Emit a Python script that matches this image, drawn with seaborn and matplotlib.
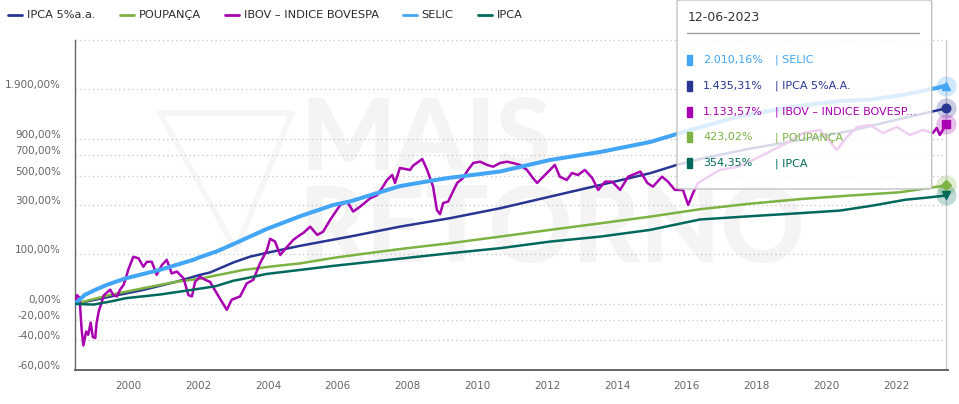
import numpy as np
import pandas as pd
import matplotlib
matplotlib.use("Agg")
import matplotlib.pyplot as plt
import matplotlib.transforms as mtransforms
from matplotlib.lines import Line2D
from matplotlib.patches import FancyBboxPatch, Rectangle
import seaborn as sns

# ---------------- data ----------------
series_names = ["IPCA 5%a.a.", "POUPANÇA", "IBOV – INDICE BOVESPA", "SELIC", "IPCA"]
tooltip_names = ["IPCA 5%A.A.", "POUPANÇA", "IBOV – INDICE BOVESP...", "SELIC", "IPCA"]
series_colors = ["#283593", "#7cb342", "#a800b0", "#42a5f5", "#00695c"]
series_markers = ["o", "D", "s", "^", "v"]
tooltip_date = "12-06-2023"

ipca5_t = [1998.47, 1999.48, 2000.43, 2001.39, 2002.05, 2002.34, 2003.00, 2003.49, 2003.97,
           2004.92, 2006.35, 2007.78, 2009.22, 2010.65, 2012.08, 2013.52, 2014.95, 2015.71,
           2016.38, 2017.81, 2019.25, 2020.68, 2022.10, 2023.44]
ipca5_v = [0, 10.7, 21.6, 36.5, 49.9, 55, 78, 93.5, 104,
           125, 156, 194, 231, 280, 347, 426, 520, 596,
           657, 774, 886, 1018, 1222, 1435.31]

poup_t = [1998.47, 1999.48, 2000.43, 2001.39, 2002.05, 2002.34, 2003.30, 2004.25, 2004.92,
          2005.87, 2006.64, 2007.78, 2009.22, 2010.65, 2012.08, 2013.52, 2014.95, 2016.38,
          2017.81, 2019.25, 2020.68, 2022.10, 2023.44]
poup_v = [0, 13.4, 24.5, 36.5, 42, 46.3, 60.7, 70, 76,
          90, 100, 115, 133.3, 155.8, 181, 208, 238, 275,
          305, 332, 354, 375, 423.02]

ibov_t = [1998.47, 1998.53, 1998.60, 1998.66, 1998.71, 1998.79, 1998.85, 1998.92, 1998.98, 1999.05,
          1999.09, 1999.15, 1999.24, 1999.30, 1999.38, 1999.48, 1999.57, 1999.67, 1999.76, 1999.86,
          1999.93, 2000.00, 2000.14, 2000.29, 2000.43, 2000.53, 2000.67, 2000.81, 2000.96, 2001.10,
          2001.24, 2001.39, 2001.58, 2001.72, 2001.82, 2001.91, 2002.05, 2002.20, 2002.34, 2002.53,
          2002.68, 2002.82, 2002.96, 2003.20, 2003.39, 2003.58, 2003.77, 2003.97, 2004.06, 2004.20,
          2004.35, 2004.55, 2004.72, 2004.92, 2005.01, 2005.21, 2005.41, 2005.58, 2005.78, 2006.07,
          2006.27, 2006.44, 2006.64, 2006.93, 2007.13, 2007.27, 2007.41, 2007.56, 2007.64, 2007.78,
          2008.07, 2008.16, 2008.42, 2008.56, 2008.73, 2008.84, 2008.93, 2009.02, 2009.16, 2009.42,
          2009.59, 2009.73, 2009.88, 2010.08, 2010.28, 2010.45, 2010.65, 2010.85, 2011.02, 2011.22,
          2011.42, 2011.59, 2011.71, 2011.85, 2011.99, 2012.22, 2012.36, 2012.56, 2012.71, 2012.88,
          2013.08, 2013.29, 2013.46, 2013.66, 2013.86, 2014.09, 2014.32, 2014.58, 2014.67, 2014.87,
          2015.03, 2015.29, 2015.46, 2015.66, 2015.89, 2016.04, 2016.18, 2016.32, 2016.95, 2017.44,
          2017.90, 2018.87, 2019.33, 2019.82, 2020.30, 2020.59, 2020.88, 2021.25, 2021.62, 2022.02,
          2022.39, 2022.77, 2023.05, 2023.16, 2023.25, 2023.44]
ibov_v = [0, 13, 9, -30, -44, -32, -35, -23, -37, -38,
          -23, -10, 3, 13, 17, 22, 13, 11, 22, 30,
          44, 62, 93, 89, 68, 80, 80, 50, 72, 85,
          53, 57, 43, 13, 11, 36, 46, 40, 36, 16,
          3, -8, 6, 11, 33, 40, 76, 112, 148, 139,
          98, 122, 144, 162, 169, 194, 162, 174, 223, 298,
          317, 263, 289, 337, 357, 405, 464, 505, 441, 567,
          549, 590, 656, 549, 414, 271, 250, 309, 317, 441,
          480, 549, 615, 628, 596, 579, 615, 628, 615, 596,
          549, 480, 441, 480, 522, 596, 491, 464, 522, 505,
          549, 480, 391, 451, 451, 391, 491, 522, 534, 441,
          414, 491, 451, 391, 391, 298, 371, 441, 549, 577,
          646, 846, 987, 1034, 758, 928, 1082, 1116, 987, 1082,
          957, 1034, 987, 1066, 957, 1133.57]

selic_t = [1998.47, 1998.75, 1999.05, 1999.38, 1999.93, 2000.91, 2001.86, 2002.05, 2002.53,
           2003.00, 2003.97, 2004.92, 2005.87, 2006.35, 2006.84, 2007.78, 2008.93, 2009.22,
           2010.65, 2012.08, 2013.52, 2014.95, 2016.10, 2017.44, 2018.50, 2019.33, 2020.30,
           2021.25, 2022.19, 2023.16, 2023.44]
selic_v = [0, 13.4, 21.6, 30.4, 43, 61, 85, 92, 108,
           130, 185, 240, 298, 318, 350, 418, 470, 482,
           535, 646, 734, 859, 1034, 1259, 1399, 1500, 1590,
           1635, 1748, 1938, 2010.16]

ipca_t = [1998.47, 1999.00, 1999.48, 1999.93, 2000.91, 2001.86, 2002.50, 2003.00, 2003.30,
          2003.97, 2004.92, 2005.87, 2006.64, 2007.78, 2009.22, 2010.65, 2012.08, 2013.52,
          2014.95, 2016.38, 2017.81, 2019.25, 2020.39, 2021.34, 2022.26, 2022.97, 2023.44]
ipca_v = [0, -1.0, 3.3, 8.3, 14, 22, 28, 38, 42,
          52, 60.7, 70, 77, 88, 102.9, 117.6, 138.6, 155.8,
          181, 225, 240, 255, 268, 295, 328, 343, 354.35]

series_t = [ipca5_t, poup_t, ibov_t, selic_t, ipca_t]
series_v = [ipca5_v, poup_v, ibov_v, selic_v, ipca_v]
series_lw = [1.8, 1.8, 1.8, 2.9, 1.8]

y_ticks = [-60, -40, -20, 0, 100, 300, 500, 700, 900, 1900]
y_top = 3900
x_ticks = [2000, 2002, 2004, 2006, 2008, 2010, 2012, 2014, 2016, 2018, 2020, 2022]
x_range = (1998.47, 2023.47)


def br(v):
    s = f"{v:,.2f}"
    return s.replace(",", "X").replace(".", ",").replace("X", ".") + "%"


# ---------------- figure ----------------
sns.set_theme(style="white")
plt.rcParams["font.family"] = ["DejaVu Sans"]

W, H = 959, 404
fig = plt.figure(figsize=(W / 100, H / 100), dpi=100)
fig.patch.set_facecolor("white")


def fx(px):
    return px / W


def fy(py):
    return 1 - py / H


ax_l, ax_r, ax_t, ax_b = 75, 947.5, 39.7, 369.5
ax = fig.add_axes([fx(ax_l), fy(ax_b), (ax_r - ax_l) / W, (ax_b - ax_t) / H])
ax.patch.set_alpha(0)

frames = [pd.DataFrame({"ano": t, "retorno": v, "serie": n})
          for n, t, v in zip(series_names, series_t, series_v)]
df = pd.concat(frames, ignore_index=True)

for n, c, lw in zip(series_names, series_colors, series_lw):
    sns.lineplot(data=df[df["serie"] == n], x="ano", y="retorno", color=c,
                 linewidth=lw, estimator=None, sort=False, legend=False, ax=ax, zorder=3)

fwd = lambda v: np.log10(np.clip(1 + np.asarray(v, float) / 100, 1e-6, None))
inv = lambda y: (10 ** np.asarray(y, float) - 1) * 100
ax.set_yscale("function", functions=(fwd, inv))
ax.set_ylim(y_ticks[0], y_top)
ax.set_xlim(*x_range)
ax.set_xlabel("")
ax.set_ylabel("")

# grid lines (dotted)
for v in y_ticks[1:] + [y_top]:
    ax.axhline(v, color="#c4c4c4", lw=0.9, ls=(0, (1, 2.5)), zorder=1, clip_on=False)

ax.set_yticks(y_ticks)
ax.set_yticklabels([br(v) for v in y_ticks])
ax.set_xticks(x_ticks)
ax.set_xticklabels([str(x) for x in x_ticks])
ax.tick_params(axis="y", length=0, pad=10, labelsize=7.5, labelcolor="#666666")
ax.tick_params(axis="x", length=5, width=1, color="#ccd6eb", direction="out", pad=3,
               labelsize=7.5, labelcolor="#666666")
ax.minorticks_off()
off = mtransforms.ScaledTranslation(0, 5 / 100, fig.dpi_scale_trans)
for lab in ax.get_yticklabels():
    lab.set_transform(lab.get_transform() + off)

for s in ["top", "right"]:
    ax.spines[s].set_visible(False)
ax.spines["left"].set_color("#666666")
ax.spines["left"].set_linewidth(1)
ax.spines["bottom"].set_color("#666666")
ax.spines["bottom"].set_linewidth(1.4)

# crosshair at the hovered (last) date
last_t = ibov_t[-1]
ax.axvline(last_t, color="#cccccc", lw=1, zorder=2)

# end-point markers with halos
for t, v, c, m in zip(series_t, series_v, series_colors, series_markers):
    ax.plot([t[-1]], [v[-1]], marker="o", ms=14.5, color=c, alpha=0.25, mec="none",
            ls="none", zorder=4, clip_on=False)
    ms = 5 if m == "D" else 6.2
    ax.plot([t[-1]], [v[-1]], marker=m, ms=ms, color=c, mec=c, ls="none", zorder=5,
            clip_on=False)

# watermark
wm_color = "#f4f4f4"
ax.text(fx(300), fy(170), "MAIS", transform=fig.transFigure, fontsize=72,
        family=["Lato", "DejaVu Sans"], fontweight="black", color=wm_color,
        ha="left", va="baseline", zorder=0.5)
ax.text(fx(298), fy(262), "RETORNO", transform=fig.transFigure, fontsize=75,
        family=["Lato", "DejaVu Sans"], fontweight="black", color=wm_color,
        ha="left", va="baseline", zorder=0.5)
logo = Line2D([fx(160), fx(292), fx(236), fx(160)], [fy(113), fy(113), fy(250), fy(113)],
              transform=fig.transFigure, color="#f6f6f6", lw=4, zorder=0.5)
ax.add_artist(logo)

# ---------------- legend (top) ----------------
fig.canvas.draw()
renderer = fig.canvas.get_renderer()
lx = 8
ly = 15
for n, c in zip(series_names, series_colors):
    fig.add_artist(Line2D([fx(lx), fx(lx + 14)], [fy(ly), fy(ly)], color=c, lw=2,
                          transform=fig.transFigure))
    txt = fig.text(fx(lx + 19), fy(ly), n, fontsize=8.2, color="#2a2a2a",
                   ha="left", va="center")
    wpx = txt.get_window_extent(renderer).width
    lx = lx + 19 + wpx + 24

# ---------------- tooltip ----------------
box = FancyBboxPatch((fx(677), fy(189)), (931.7 - 677) / W, (189 - 0) / H,
                     boxstyle="round,pad=0,rounding_size=0.004",
                     transform=fig.transFigure, fc=(1, 1, 1, 0.82), ec="#c2c2c2",
                     lw=1, zorder=6)
fig.add_artist(box)
fig.text(fx(687.3), fy(17.5), tooltip_date, fontsize=9, color="#333333",
         ha="left", va="center", zorder=7)
fig.add_artist(Line2D([fx(687), fx(919)], [fy(32.5), fy(32.5)], color="#9e9e9e", lw=1,
                      transform=fig.transFigure, zorder=7))

order = sorted(range(len(series_names)), key=lambda i: -series_v[i][-1])
row_y = [60, 86, 111.7, 137.3, 163.3]
for ry, i in zip(row_y, order):
    c = series_colors[i]
    fig.add_artist(Rectangle((fx(687.3), fy(ry + 5)), 5 / W, 10 / H, color=c,
                             transform=fig.transFigure, zorder=7))
    fig.text(fx(703.3), fy(ry), br(series_v[i][-1]), fontsize=8, color=c,
             ha="left", va="center", zorder=7)
    fig.text(fx(775), fy(ry), "| " + tooltip_names[i], fontsize=8, color=c,
             ha="left", va="center", zorder=7)

fig.savefig("out.png", dpi=100, facecolor="white")
